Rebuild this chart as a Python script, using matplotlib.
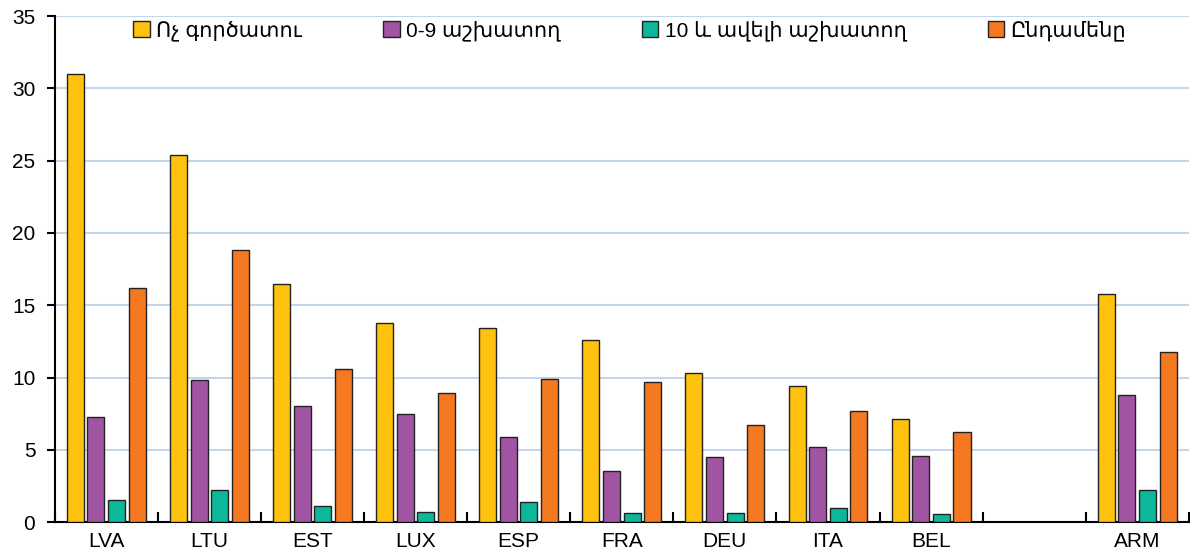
import numpy as np
import matplotlib.pyplot as plt

plt.rcParams['font.family'] = ['Liberation Sans', 'DejaVu Sans']

countries = ['LVA', 'LTU', 'EST', 'LUX', 'ESP', 'FRA', 'DEU', 'ITA', 'BEL', '', 'ARM']
series_names = ['Ոչ գործատու', '0-9 աշխատող', '10 և ավելի աշխատող', 'Ընդամենը']

no_employees = [31.0, 25.4, 16.5, 13.8, 13.4, 12.6, 10.3, 9.4, 7.1, np.nan, 15.8]
small_firms = [7.3, 9.8, 8.0, 7.5, 5.9, 3.5, 4.5, 5.2, 4.6, np.nan, 8.8]
large_firms = [1.5, 2.2, 1.1, 0.7, 1.4, 0.6, 0.65, 1.0, 0.55, np.nan, 2.2]
total = [16.2, 18.8, 10.6, 8.9, 9.9, 9.7, 6.7, 7.7, 6.2, np.nan, 11.8]

colors = ['#FFC20E', '#A154A1', '#0DB89A', '#F47920']

fig = plt.figure(figsize=(11.9, 5.56), dpi=100)
ax = fig.add_axes([0.046, 0.061, 0.953, 0.91])

x = np.arange(len(countries))
width = 0.165
for i, (vals, name) in enumerate(zip([no_employees, small_firms, large_firms, total], series_names)):
    ax.bar(x + (i - 1.5) * 0.2, vals, width, color=colors[i], edgecolor='#222222',
           linewidth=1.0, label=name, zorder=3)

ax.set_xlim(-0.5, len(countries) - 0.5)
ax.set_ylim(0, 35)
ax.set_yticks(range(0, 36, 5))
ax.yaxis.grid(True, color='#C5D6EC', linewidth=1.5, zorder=0)
ax.set_axisbelow(True)

# group labels in the middle, small ticks on the group borders
ax.set_xticks(x)
ax.set_xticklabels(countries)
ax.tick_params(axis='x', which='major', length=0, labelsize=15, pad=7)
ax.set_xticks(np.arange(len(countries) + 1) - 0.5, minor=True)
ax.tick_params(axis='x', which='minor', direction='in', length=7, width=1.5)
ax.tick_params(axis='y', direction='out', length=6, width=1.5, labelsize=15, pad=8)

for side in ['top', 'right']:
    ax.spines[side].set_visible(False)
for side in ['left', 'bottom']:
    ax.spines[side].set_linewidth(1.5)

ax.legend(loc='upper center', bbox_to_anchor=(0.507, 1.012), ncol=4, frameon=False,
          fontsize=15, handlelength=0.8, handleheight=0.8, handletextpad=0.3,
          columnspacing=3.9, borderaxespad=0.1)

fig.savefig('out.png', dpi=100)
